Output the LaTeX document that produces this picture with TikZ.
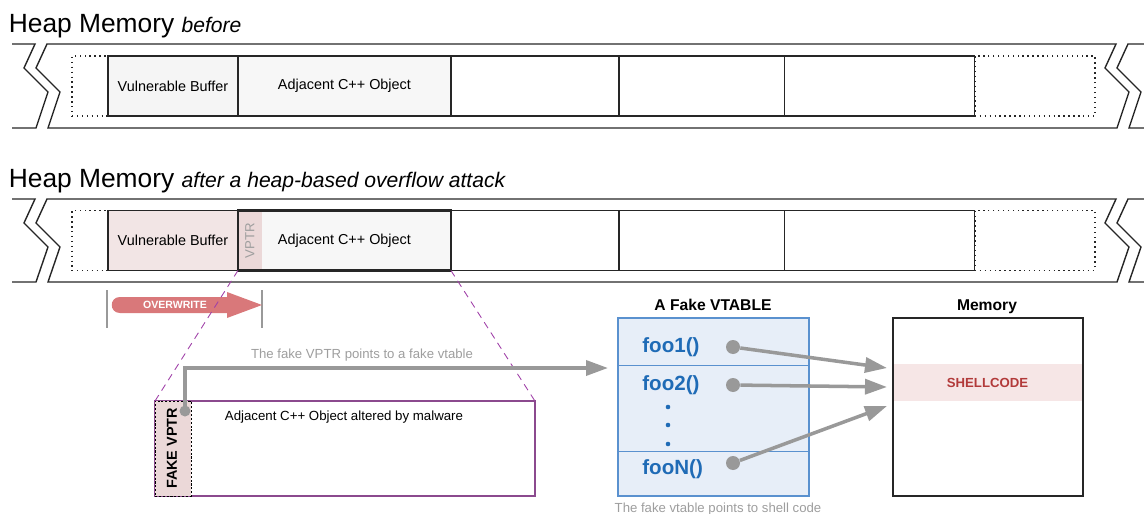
\documentclass[tikz,border=0pt]{standalone}
\usepackage{fontspec}
\setmainfont{Liberation Sans}
\usepackage{xcolor}
\usepackage{tikz}
\usetikzlibrary{arrows.meta,positioning}

\definecolor{cellgray}{HTML}{F5F5F5}
\definecolor{objgray}{HTML}{F7F7F7}
\definecolor{bufpink}{HTML}{F2E5E5}
\definecolor{vptrpink}{HTML}{EBD8D8}
\definecolor{owred}{HTML}{D9787A}
\definecolor{malpurple}{HTML}{8B4A8E}
\definecolor{zoompurple}{HTML}{A040A8}
\definecolor{arrgray}{HTML}{999999}
\definecolor{notegray}{HTML}{9E9E9E}
\definecolor{vfill}{HTML}{E7EEF8}
\definecolor{vblue}{HTML}{5A91CF}
\definecolor{fnblue}{HTML}{1F6BB6}
\definecolor{shellpink}{HTML}{F6E6E6}
\definecolor{shellred}{HTML}{B23A3A}

\begin{document}
\begin{tikzpicture}[
x=0.02cm, y=-0.02cm,
band/.style={draw=black!85, line width=0.8pt},
cell/.style={draw=black!85, line width=0.7pt, minimum height=1.2cm, inner sep=0pt, outer sep=0pt, font=\fontsize{8.2}{10}\selectfont},
gapcell/.style={draw=black!85, dotted, line width=0.8pt, minimum height=1.2cm, inner sep=0pt, outer sep=0pt},
title/.style={anchor=base west, inner sep=0pt, font=\fontsize{15}{18}\selectfont},
head/.style={anchor=base, inner sep=0pt, font=\bfseries\fontsize{8.9}{10}\selectfont},
note/.style={anchor=base, inner sep=0pt, text=notegray, font=\fontsize{7.5}{9}\selectfont},
fn/.style={anchor=west, inner sep=0pt, text=fnblue, font=\bfseries\fontsize{11.7}{14}\selectfont},
gdot/.style={circle, fill=arrgray, inner sep=0pt, minimum size=0.28cm},
garr/.style={draw=arrgray, line width=2pt, -{Triangle[length=0.44cm,width=0.3cm]}},
tick/.style={draw=arrgray, line width=0.6pt}
]
\useasboundingbox (0,0) rectangle (1144,514);

% titles
\node[title] (titleb) at (8.5,32) {Heap Memory \fontsize{12}{14}\selectfont\itshape before};
\node[title] (titlea) at (8.5,187) {Heap Memory \fontsize{12}{14}\selectfont\itshape after a heap-based overflow attack};

% the two heap bands with broken ends
\foreach \t/\b in {44/128, 199/282} {
  \draw[band] (12,\t) -- (35,\t) -- (24,\t+24) -- (48,\t+48) -- (36,\b) -- (12,\b);
  \draw[band] (47,\t) -- (1116,\t) -- (1105,\t+24) -- (1129,\t+48) -- (1117,\b) -- (48,\b) -- (60,\t+48) -- (36,\t+24) -- cycle;
  \draw[band] (1144,\t) -- (1128,\t) -- (1117,\t+24) -- (1141,\t+48) -- (1129,\b) -- (1144,\b);
}

% before
\node[gapcell, minimum width=0.72cm, anchor=west] (gapb) at (72,86) {};
\node[cell, fill=cellgray, minimum width=2.6cm, right=0pt of gapb] (bufb) {Vulnerable Buffer};
\node[cell, fill=objgray, line width=1.4pt, minimum width=4.26cm, right=0pt of bufb] (objb) {Adjacent C++ Object};
\node[cell, minimum width=3.36cm, right=0pt of objb] (c1b) {};
\node[cell, minimum width=3.32cm, right=0pt of c1b] (c2b) {};
\node[cell, minimum width=3.8cm, right=0pt of c2b] (c3b) {};
\node[gapcell, minimum width=2.4cm, right=0pt of c3b] (endb) {};

% after
\node[gapcell, minimum width=0.72cm, anchor=west] (gapa) at (72,240.5) {};
\node[cell, fill=bufpink, minimum width=2.6cm, right=0pt of gapa] (bufa) {Vulnerable Buffer};
\node[cell, fill=objgray, line width=1.4pt, minimum width=4.26cm, right=0pt of bufa,
  path picture={\fill[vptrpink] (path picture bounding box.north west) rectangle ([xshift=0.48cm]path picture bounding box.south west);}] (obja) {Adjacent C++ Object};
\node[rotate=90, text=notegray, font=\fontsize{7.5}{9}\selectfont] (vptr) at ([xshift=0.24cm]obja.west) {VPTR};
\node[cell, minimum width=3.36cm, right=0pt of obja] (c1a) {};
\node[cell, minimum width=3.32cm, right=0pt of c1a] (c2a) {};
\node[cell, minimum width=3.8cm, right=0pt of c2a] (c3a) {};
\node[gapcell, minimum width=2.4cm, right=0pt of c3a] (enda) {};

% overwrite
\draw[tick] (107,290) -- (107,328);
\draw[tick] (262,290) -- (262,328);
\fill[owred] (120,297) -- (227,297) -- (227,292) -- (262,305) -- (227,318) -- (227,313) -- (120,313)
  .. controls (109,313) and (109,297) .. (120,297);
\node[text=white, font=\bfseries\fontsize{6}{7}\selectfont] (owlbl) at (175,305) {OVERWRITE};

% altered object
\node[draw=malpurple, line width=0.8pt, minimum width=7.6cm, minimum height=1.9cm, outer sep=0pt, anchor=north west] (mal) at (155,401) {};
\node[draw=black, fill=vptrpink, dash pattern=on 1.2pt off 1pt, line width=0.5pt, minimum width=0.72cm, minimum height=1.9cm, outer sep=0pt, anchor=north west] (fake) at (155,401) {};
\node[rotate=90, font=\bfseries\fontsize{8.2}{10}\selectfont] (fakelbl) at ([xshift=-0.02cm]fake.center) {FAKE VPTR};
\node[anchor=base, inner sep=0pt, font=\fontsize{7.55}{9}\selectfont] (maltext) at (344,420) {Adjacent C++ Object altered by malware};
\draw[zoompurple, dash pattern=on 4pt off 3pt, line width=0.5pt] (obja.south west) -- (mal.north west);
\draw[zoompurple, dash pattern=on 4pt off 3pt, line width=0.5pt] (obja.south east) -- (mal.north east);

% fake vtable
\node[head] (vtitle) at (713,310) {A Fake VTABLE};
\node[draw=vblue, fill=vfill, line width=0.7pt, minimum width=3.82cm, minimum height=3.56cm, outer sep=0pt, anchor=north west] (vtab) at (618,318) {};
\draw[vblue, line width=0.5pt] (618,365) -- (809,365);
\draw[vblue, line width=0.5pt] (618,451) -- (809,451);
\node[fn] (foo1) at (642,347) {foo1()};
\node[fn] (foo2) at (642,385) {foo2()};
\node[fn] (fooN) at (642,469) {fooN()};
\foreach \dy in {407,425,444}
  \fill[fnblue] (668,\dy) circle (1.3pt);
\node[note] (vcap) at (718,512.5) {The fake vtable points to shell code};

% memory
\node[head] (mtitle) at (987,310) {Memory};
\node[fill=shellpink, minimum width=3.8cm, minimum height=0.74cm, outer sep=0pt, text=shellred, font=\bfseries\fontsize{7.5}{9}\selectfont] (shell) at (987.5,382.5) {SHELLCODE};
\node[draw=black!85, line width=0.8pt, minimum width=3.8cm, minimum height=3.56cm, outer sep=0pt, anchor=north west] (mem) at (893,318) {};

% pointers
\node[gdot, minimum size=0.22cm] (vp) at (185,411) {};
\coordinate (vtin) at (608,368);
\draw[garr] (vp.center) |- (vtin);
\node[note] (vplbl) at (362,358) {The fake VPTR points to a fake vtable};
\node[gdot] (d1) at (733,347) {};
\node[gdot] (d2) at (733,385) {};
\node[gdot] (dN) at (733,463) {};
\coordinate (m1) at (887,368);
\coordinate (m2) at (887,387);
\coordinate (mN) at (887,406);
\draw[garr] (d1) -- (m1);
\draw[garr] (d2) -- (m2);
\draw[garr] (dN) -- (mN);
\end{tikzpicture}
\end{document}
